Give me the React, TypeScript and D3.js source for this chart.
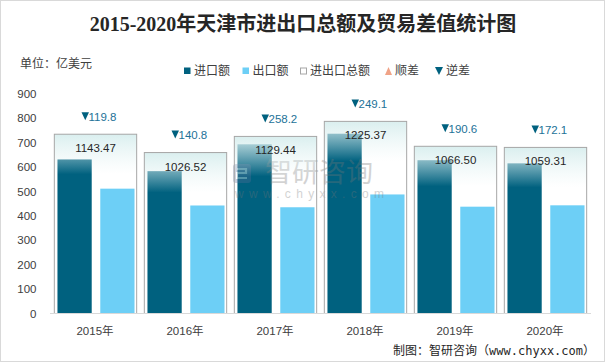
import React from "react";
import * as d3 from "d3";

const years = ["2015年", "2016年", "2017年", "2018年", "2019年", "2020年"];
const imports = [631.64, 583.66, 693.82, 737.24, 628.55, 615.71];
const exports = [511.84, 442.86, 435.62, 488.14, 437.95, 443.6];
const totals = [1143.47, 1026.52, 1129.44, 1225.37, 1066.5, 1059.31];
const balances = [-119.8, -140.8, -258.2, -249.1, -190.6, -172.1];
const yTicks = [0, 100, 200, 300, 400, 500, 600, 700, 800, 900];
const legendItems = [
  { label: "进口额", kind: "imp" },
  { label: "出口额", kind: "exp" },
  { label: "进出口总额", kind: "tot" },
  { label: "顺差", kind: "up" },
  { label: "逆差", kind: "down" },
];

const W = 606;
const H = 363;
const IMP = "#00617f";
const EXP = "#6dcff6";
const NUM_FONT = "'Liberation Sans', 'Noto Sans CJK SC', sans-serif";
const CJK_FONT = "'Noto Sans CJK SC', 'Liberation Sans', sans-serif";

export default function App() {
  const x = d3.scaleBand<string>().domain(years).range([50, 590]).padding(0);
  const bw = x.bandwidth();
  const sub = d3
    .scaleBand<string>()
    .domain(["imp", "exp"])
    .range([bw * 0.083, bw * 0.939])
    .paddingInner(0.2);
  const y = d3.scaleLinear().domain([0, 900]).range([313.5, 94]);
  const y2 = d3.scaleLinear().domain([0, 1400]).range([313.5, 94]);
  const boxOff = bw * 0.048;
  const boxW = bw * 0.915;

  const legendX = [184, 242.5, 300, 385, 435];

  return (
    <svg
      width={W}
      height={H}
      style={{ position: "absolute", left: 0, top: 0, background: "#fff" }}
    >
      <defs>
        {years.map((yr, i) => {
          const top = y2(totals[i]);
          return (
            <linearGradient
              key={yr}
              id={`boxg${i}`}
              gradientUnits="userSpaceOnUse"
              x1={0}
              x2={0}
              y1={top}
              y2={top + 40}
            >
              <stop offset="0" stopColor="#d8eeee" stopOpacity={0.95} />
              <stop offset="1" stopColor="#e8f5f5" stopOpacity={0} />
            </linearGradient>
          );
        })}
      </defs>
      <rect x={0.5} y={0.5} width={W - 2} height={H - 2} fill="#fff" stroke="#d9d9d9" />

      {/* title */}
      <text
        x={303}
        y={30.5}
        textAnchor="middle"
        fontFamily="'Liberation Serif', 'Noto Sans CJK SC', serif"
        fontWeight="bold"
        fontSize={20}
        fill="#262626"
      >
        2015-2020年天津市进出口总额及贸易差值统计图
      </text>

      {/* unit */}
      <text x={20} y={68} fontFamily={CJK_FONT} fontSize={12} fill="#404040">
        单位：亿美元
      </text>

      {/* legend */}
      {legendItems.map((it, i) => {
        const lx = legendX[i];
        let mark: React.ReactNode = null;
        if (it.kind === "imp")
          mark = <rect x={lx} y={67.5} width={6.5} height={6.5} fill={IMP} />;
        else if (it.kind === "exp")
          mark = <rect x={lx} y={67.5} width={6.5} height={6.5} fill={EXP} />;
        else if (it.kind === "tot")
          mark = (
            <rect x={lx + 0.5} y={68} width={6} height={6} fill="#fff" stroke="#a6a6a6" />
          );
        else if (it.kind === "up")
          mark = (
            <path d={`M${lx},${75} L${lx + 7},${75} L${lx + 3.5},${67} Z`} fill="#f0a387" />
          );
        else
          mark = (
            <path d={`M${lx},${67} L${lx + 8},${67} L${lx + 4},${75} Z`} fill={IMP} />
          );
        return (
          <g key={it.label}>
            {mark}
            <text
              x={lx + (it.kind === "down" ? 11 : 10)}
              y={75}
              fontFamily={CJK_FONT}
              fontSize={12}
              fill="#404040"
            >
              {it.label}
            </text>
          </g>
        );
      })}

      {/* y axis labels */}
      {yTicks.map((t) => (
        <text
          key={t}
          x={36.5}
          y={y(t) + 4}
          textAnchor="end"
          fontFamily={NUM_FONT}
          fontSize={11.5}
          fill="#404040"
        >
          {t}
        </text>
      ))}

      {/* bars */}
      {years.map((yr, i) => {
        const x0 = x(yr) as number;
        return (
          <g key={yr}>
            <rect
              x={x0 + (sub("imp") as number)}
              y={y(imports[i])}
              width={sub.bandwidth()}
              height={y(0) - y(imports[i])}
              fill={IMP}
            />
            <rect
              x={x0 + (sub("exp") as number)}
              y={y(exports[i])}
              width={sub.bandwidth()}
              height={y(0) - y(exports[i])}
              fill={EXP}
            />
          </g>
        );
      })}

      {/* watermark */}
      <g opacity={0.32}>
        <rect x={233} y={164} width={18} height={19} rx={3} fill="#5a6f9a" />
        <path d="M237,169 h9 v4 h-9 v5 h10" stroke="#fff" strokeWidth={2.2} fill="none" />
        <text x={265} y={182} fontFamily={CJK_FONT} fontSize={27} fill="#777">
          智研咨询
        </text>
        <text
          x={235}
          y={198}
          fontFamily={NUM_FONT}
          fontSize={12}
          letterSpacing={5.3}
          fill="#777"
        >
          www.chyxx.com
        </text>
      </g>

      {/* total boxes */}
      {years.map((yr, i) => {
        const x0 = (x(yr) as number) + boxOff;
        const top = y2(totals[i]);
        const cx = x0 + boxW / 2;
        return (
          <g key={yr}>
            <rect
              x={x0}
              y={top}
              width={boxW}
              height={y2(0) - top}
              fill={`url(#boxg${i})`}
              stroke="#a6a6a6"
              strokeWidth={1}
            />
            <text
              x={cx}
              y={top + 18}
              textAnchor="middle"
              fontFamily={NUM_FONT}
              fontSize={11.5}
              fill="#262626"
            >
              {totals[i].toFixed(2)}
            </text>
            <path
              d={`M${cx - 14},${top - 22} L${cx - 6.5},${top - 22} L${cx - 10.25},${top - 14} Z`}
              fill={balances[i] < 0 ? IMP : "#f0a387"}
            />
            <text
              x={cx - 7}
              y={top - 13.5}
              fontFamily={NUM_FONT}
              fontSize={11.5}
              fill="#1d7298"
            >
              {Math.abs(balances[i]).toFixed(1)}
            </text>
          </g>
        );
      })}

      {/* x axis */}
      <line x1={50} x2={591} y1={313.5} y2={313.5} stroke="#d9d9d9" strokeWidth={1} />
      {years.map((yr) => (
        <text
          key={yr}
          x={(x(yr) as number) + bw / 2}
          y={335}
          textAnchor="middle"
          fontFamily={NUM_FONT}
          fontSize={11.5}
          fill="#404040"
        >
          {yr}
        </text>
      ))}

      {/* footer */}
      <text
        x={595}
        y={355}
        textAnchor="end"
        fontFamily="'DejaVu Sans Mono', 'Noto Sans CJK SC', monospace"
        fontSize={12}
        fill="#262626"
      >
        制图：智研咨询（www.chyxx.com）
      </text>
    </svg>
  );
}
